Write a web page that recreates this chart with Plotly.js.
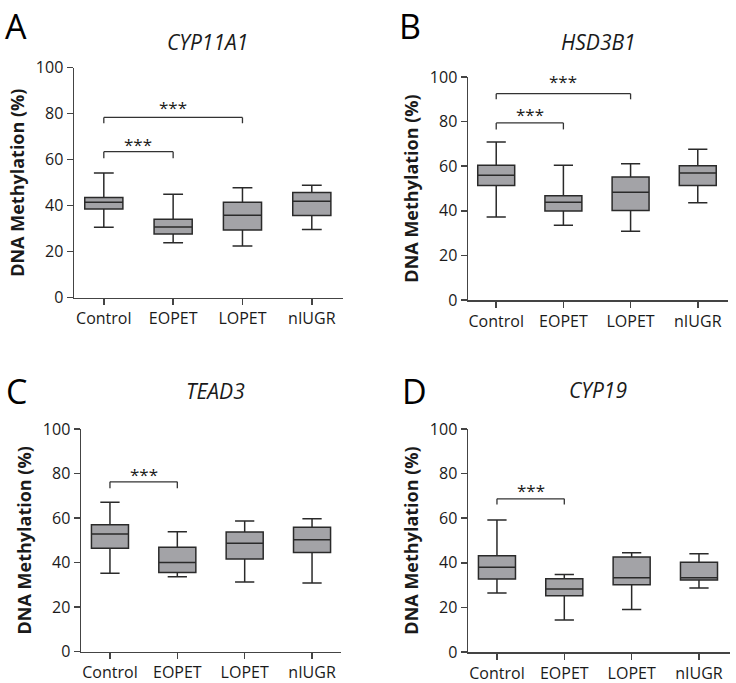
<!DOCTYPE html>
<html>
<head>
<meta charset="utf-8">
<script src="https://cdn.plot.ly/plotly-3.0.1.min.js"></script>
<style>html,body{margin:0;padding:0;background:#fff;}#chart{width:736px;height:683px;}</style>
</head>
<body>
<div id="chart"></div>
<script>
const categories = ['Control', 'EOPET', 'LOPET', 'nIUGR'];
const panelTitles = ['CYP11A1', 'HSD3B1', 'TEAD3', 'CYP19'];
const panelLetters = ['A', 'B', 'C', 'D'];
const yTicks = [0, 20, 40, 60, 80, 100];

// Panel A: CYP11A1
const A_lower  = [30.6, 23.9, 22.5, 29.7];
const A_q1     = [38.6, 27.7, 29.4, 35.7];
const A_median = [41.5, 30.7, 35.8, 41.9];
const A_q3     = [43.6, 34.1, 41.5, 45.7];
const A_upper  = [54.2, 45.0, 47.8, 48.9];

// Panel B: HSD3B1
const B_lower  = [37.2, 33.5, 30.8, 43.6];
const B_q1     = [51.3, 39.9, 40.1, 51.4];
const B_median = [55.9, 43.8, 48.3, 57.0];
const B_q3     = [60.4, 46.8, 55.2, 60.2];
const B_upper  = [70.9, 60.4, 61.1, 67.6];

// Panel C: TEAD3
const C_lower  = [35.2, 33.7, 31.3, 30.8];
const C_q1     = [46.4, 35.6, 41.6, 44.6];
const C_median = [52.9, 40.1, 48.7, 50.3];
const C_q3     = [57.0, 46.9, 53.7, 55.9];
const C_upper  = [67.1, 53.9, 58.7, 59.7];

// Panel D: CYP19
const D_lower  = [26.5, 14.3, 19.1, 28.7];
const D_q1     = [32.7, 25.2, 30.2, 32.3];
const D_median = [38.0, 28.3, 33.3, 33.3];
const D_q3     = [43.2, 32.9, 42.6, 40.2];
const D_upper  = [59.2, 34.7, 44.5, 44.1];

// Significance brackets
const sigPanel = ['A', 'A', 'B', 'B', 'C', 'D'];
const sigFrom  = ['Control', 'Control', 'Control', 'Control', 'Control', 'Control'];
const sigTo    = ['LOPET', 'EOPET', 'LOPET', 'EOPET', 'EOPET', 'EOPET'];
const sigLevel = [78.4, 63.5, 92.5, 79.4, 76.3, 68.7];
const sigTip   = [75.8, 60.6, 90.0, 76.5, 73.4, 66.1];
const sigStar  = [82.8, 66.8, 98.0, 83.0, 79.7, 72.6];
const sigText  = ['***', '***', '***', '***', '***', '***'];

const lowers  = [A_lower, B_lower, C_lower, D_lower];
const q1s     = [A_q1, B_q1, C_q1, D_q1];
const medians = [A_median, B_median, C_median, D_median];
const q3s     = [A_q3, B_q3, C_q3, D_q3];
const uppers  = [A_upper, B_upper, C_upper, D_upper];

const W = 736, H = 683;
// plot area pixel boxes [left, right, top, bottom]
const boxesPx = [
  [74, 343, 67.7, 297.7],
  [468, 728, 77, 300],
  [81, 341, 429, 651.7],
  [468, 729.7, 429, 652]
];
const xRanges = [[-0.43, 3.45], [-0.42, 3.45], [-0.43, 3.43], [-0.43, 3.456]];
const titlePx = [[207, 42], [598, 42], [215, 391], [598, 390]];
const letterPx = [[3, 1], [397, 1], [4, 366], [400, 366]];

const fontFam = '"Open Sans", "Noto Sans", Arial, sans-serif';
const textColor = '#1a1a1a';
const axisColor = '#444';
const boxFill = '#a3a3a7';
const boxLine = '#2a2a2a';

const traces = [];
const layout = {
  width: W, height: H,
  margin: {l: 0, r: 0, t: 0, b: 0},
  paper_bgcolor: '#fff', plot_bgcolor: '#fff',
  showlegend: false,
  font: {family: fontFam, color: textColor, size: 16},
  shapes: [], annotations: []
};

for (let i = 0; i < 4; i++) {
  const sfx = i === 0 ? '' : String(i + 1);
  traces.push({
    type: 'box',
    x: categories,
    q1: q1s[i], median: medians[i], q3: q3s[i],
    lowerfence: lowers[i], upperfence: uppers[i],
    xaxis: 'x' + sfx, yaxis: 'y' + sfx,
    boxpoints: false,
    fillcolor: boxFill,
    line: {color: boxLine, width: 1.5},
    width: 0.55,
    whiskerwidth: 0.52,
    hoverinfo: 'skip'
  });
  const b = boxesPx[i];
  layout['xaxis' + sfx] = {
    domain: [b[0] / W, b[1] / W],
    anchor: 'y' + sfx,
    type: 'category',
    categoryarray: categories,
    range: xRanges[i],
    showline: true, linecolor: axisColor, linewidth: 1.5,
    ticks: 'outside', ticklen: 6, tickwidth: 1.5, tickcolor: axisColor,
    showgrid: false, zeroline: false,
    tickfont: {size: 16, color: textColor, family: fontFam},
    fixedrange: true
  };
  layout['yaxis' + sfx] = {
    domain: [1 - b[3] / H, 1 - b[2] / H],
    anchor: 'x' + sfx,
    range: [0, 100],
    tickvals: yTicks,
    showline: true, linecolor: axisColor, linewidth: 1.5,
    ticks: 'outside', ticklen: 6, tickwidth: 1.5, tickcolor: axisColor,
    showgrid: false, zeroline: false,
    tickfont: {size: 16, color: textColor, family: fontFam},
    title: {text: '<b>DNA Methylation (%)</b>', font: {size: 18, color: textColor, family: fontFam}, standoff: 6},
    fixedrange: true
  };
  layout.annotations.push({
    xref: 'paper', yref: 'paper',
    x: titlePx[i][0] / W, y: 1 - titlePx[i][1] / H,
    xanchor: 'center', yanchor: 'middle',
    text: '<i>' + panelTitles[i] + '</i>', showarrow: false,
    font: {size: 21, color: textColor, family: fontFam}
  });
  layout.annotations.push({
    xref: 'paper', yref: 'paper',
    x: letterPx[i][0] / W, y: 1 - letterPx[i][1] / H,
    xanchor: 'left', yanchor: 'top',
    text: panelLetters[i], showarrow: false,
    font: {size: 34, color: '#000', family: fontFam}
  });
}

const panelIndex = {A: 0, B: 1, C: 2, D: 3};
for (let k = 0; k < sigPanel.length; k++) {
  const i = panelIndex[sigPanel[k]];
  const sfx = i === 0 ? '' : String(i + 1);
  const x0 = categories.indexOf(sigFrom[k]);
  const x1 = categories.indexOf(sigTo[k]);
  const segs = [
    [x0, sigTip[k], x0, sigLevel[k]],
    [x0, sigLevel[k], x1, sigLevel[k]],
    [x1, sigLevel[k], x1, sigTip[k]]
  ];
  segs.forEach(s => layout.shapes.push({
    type: 'line', xref: 'x' + sfx, yref: 'y' + sfx,
    x0: s[0], y0: s[1], x1: s[2], y1: s[3],
    line: {color: '#333', width: 1.3}
  }));
  layout.annotations.push({
    xref: 'x' + sfx, yref: 'y' + sfx,
    x: (x0 + x1) / 2, y: sigStar[k],
    xanchor: 'center', yanchor: 'middle',
    text: sigText[k], showarrow: false,
    font: {size: 17, color: textColor, family: fontFam}
  });
}

Plotly.newPlot('chart', traces, layout, {staticPlot: true, displayModeBar: false});
</script>
</body>
</html>
